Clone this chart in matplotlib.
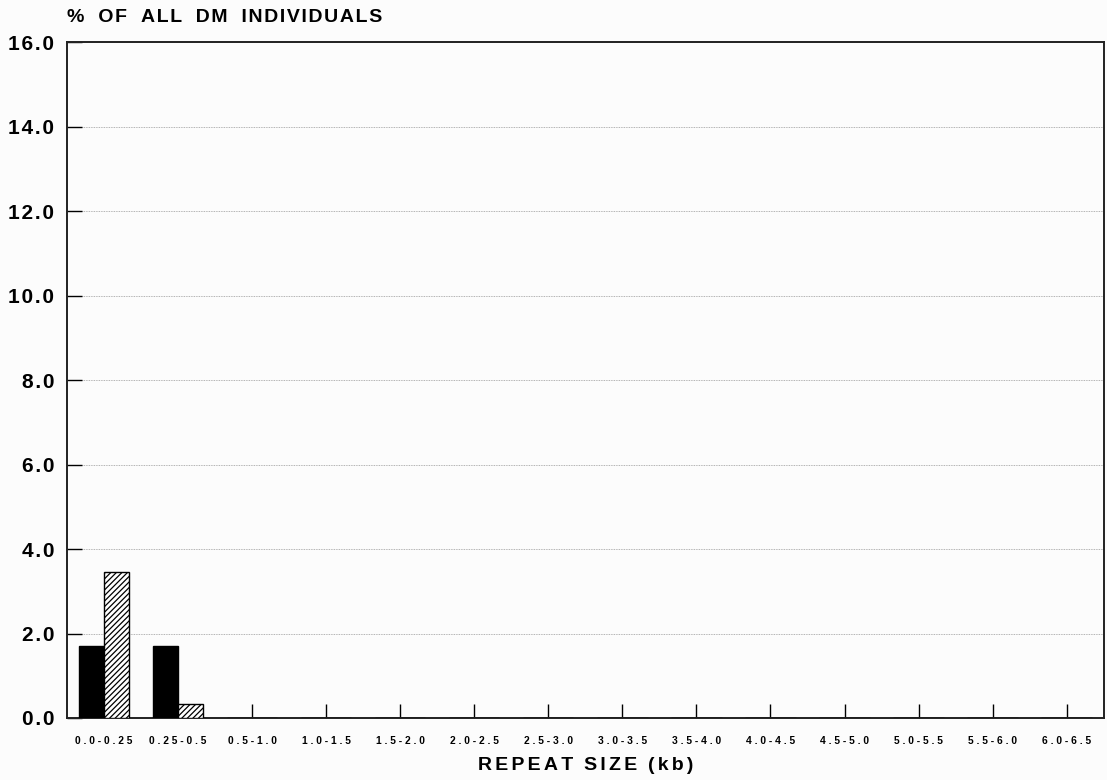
import matplotlib
matplotlib.use("Agg")
import matplotlib.pyplot as plt
import numpy as np

categories = ["0.0-0.25", "0.25-0.5", "0.5-1.0", "1.0-1.5", "1.5-2.0", "2.0-2.5",
              "2.5-3.0", "3.0-3.5", "3.5-4.0", "4.0-4.5", "4.5-5.0", "5.0-5.5",
              "5.5-6.0", "6.0-6.5"]
solid_values = [1.70, 1.70, 0, 0, 0, 0, 0, 0, 0, 0, 0, 0, 0, 0]
hatched_values = [3.45, 0.33, 0, 0, 0, 0, 0, 0, 0, 0, 0, 0, 0, 0]
y_ticks = [0, 2, 4, 6, 8, 10, 12, 14, 16]

plt.rcParams["font.family"] = ["Liberation Sans", "DejaVu Sans"]
plt.rcParams["hatch.linewidth"] = 0.9

HAIR = "\u200a"


def tracked(s, gap=HAIR):
    """Spread letters apart for a typewriter-like tracking."""
    return gap.join(s)


bg = "#fcfcfc"
fig = plt.figure(figsize=(11.07, 7.80), dpi=100, facecolor=bg)
ax = fig.add_axes([0.0605, 0.0795, 0.9365, 0.8665], facecolor=bg)

x = np.arange(len(categories))
w = 0.34
ax.bar(x - w / 2, solid_values, width=w, color="black", edgecolor="black", linewidth=1.0, zorder=3)
ax.bar(x + w / 2, hatched_values, width=w, color="white", edgecolor="black", hatch="//////",
       linewidth=1.0, zorder=3)

ax.set_xlim(-0.5, len(categories) - 0.5)
ax.set_ylim(0, 16)
ax.set_yticks(y_ticks)
ax.set_yticklabels([tracked(f"{v:.1f}") for v in y_ticks], fontsize=15, fontweight="bold")
ax.set_xticks(x)
ax.set_xticklabels([tracked(c, " ") for c in categories], fontsize=7.4, fontweight="bold")

ax.tick_params(axis="x", direction="in", length=10, width=1.0, pad=13)
ax.tick_params(axis="y", direction="in", length=11, width=1.0, pad=9)

for s in ax.spines.values():
    s.set_linewidth(1.4)
    s.set_color("#222222")

ax.grid(axis="y", linestyle=(0, (1, 1)), color="#9a9a9a", linewidth=0.6, zorder=0)
ax.set_axisbelow(True)

ylabel_words = ["%", "OF", "ALL", "DM", "INDIVIDUALS"]
fig.text(0.0605, 0.978, ("  " + HAIR * 2).join(tracked(wd) for wd in ylabel_words),
         fontsize=14, fontweight="bold", ha="left", va="center")
xlabel_words = ["REPEAT", "SIZE", "(kb)"]
fig.text(0.529, 0.019, ("  ").join(tracked(wd, HAIR * 2) for wd in xlabel_words),
         fontsize=14, fontweight="bold", ha="center", va="center")

fig.savefig("out.png", dpi=100, facecolor=bg)
